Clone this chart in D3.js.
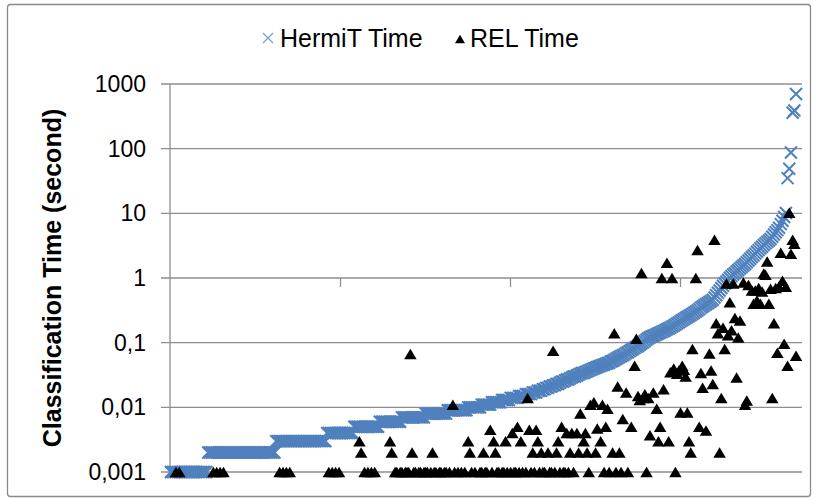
<!DOCTYPE html>
<html>
  <head>
    <meta charset="UTF-8" />
    <title>HermiT / REL classification time</title>
    <style>
      body { margin: 0; background: #fff; }
      text { font-family: "Liberation Sans", Arial, sans-serif; }
    </style>
  </head>
  <body>
    <svg width="816" height="499"></svg>

    <script src="https://d3js.org/d3.v7.min.js"></script>
    <script>
      // HermiT classification time per ontology (seconds), sorted ascending
      const hermitTime = [
        0.001, 0.001, 0.001, 0.001, 0.001, 0.001, 0.001, 0.001, 0.001, 0.001, 0.001, 0.001, 0.001, 0.001, 0.001, 0.001, 0.001, 0.001, 0.001, 0.001,
        0.001, 0.001, 0.002, 0.002, 0.002, 0.002, 0.002, 0.002, 0.002, 0.002, 0.002, 0.002, 0.002, 0.002, 0.002, 0.002, 0.002, 0.002, 0.002, 0.002,
        0.002, 0.002, 0.002, 0.002, 0.002, 0.002, 0.002, 0.002, 0.002, 0.002, 0.002, 0.002, 0.002, 0.002, 0.002, 0.002, 0.002, 0.002, 0.002, 0.002,
        0.002, 0.002, 0.003, 0.003, 0.003, 0.003, 0.003, 0.003, 0.003, 0.003, 0.003, 0.003, 0.003, 0.003, 0.003, 0.003, 0.003, 0.003, 0.003, 0.003,
        0.003, 0.003, 0.003, 0.003, 0.003, 0.003, 0.003, 0.003, 0.003, 0.003, 0.003, 0.003, 0.004, 0.004, 0.004, 0.004, 0.004, 0.004, 0.004, 0.004,
        0.004, 0.004, 0.004, 0.004, 0.004, 0.004, 0.004, 0.004, 0.005, 0.005, 0.005, 0.005, 0.005, 0.005, 0.005, 0.005, 0.005, 0.005, 0.005, 0.005,
        0.005, 0.005, 0.005, 0.006, 0.006, 0.006, 0.006, 0.006, 0.006, 0.006, 0.006, 0.006, 0.006, 0.006, 0.006, 0.006, 0.007, 0.007, 0.007, 0.007,
        0.007, 0.007, 0.007, 0.007, 0.007, 0.007, 0.007, 0.007, 0.007, 0.007, 0.008, 0.008, 0.008, 0.008, 0.008, 0.008, 0.008, 0.008, 0.008, 0.008,
        0.008, 0.008, 0.008, 0.009, 0.009, 0.009, 0.009, 0.009, 0.009, 0.009, 0.009, 0.009, 0.009, 0.009, 0.009, 0.010, 0.010, 0.010, 0.010, 0.010,
        0.010, 0.010, 0.010, 0.011, 0.011, 0.011, 0.011, 0.011, 0.011, 0.012, 0.012, 0.012, 0.012, 0.012, 0.012, 0.013, 0.013, 0.013, 0.013, 0.013,
        0.014, 0.014, 0.014, 0.014, 0.014, 0.015, 0.015, 0.015, 0.015, 0.016, 0.016, 0.016, 0.016, 0.017, 0.017, 0.017, 0.018, 0.018, 0.018, 0.019,
        0.019, 0.020, 0.020, 0.021, 0.021, 0.022, 0.022, 0.023, 0.023, 0.024, 0.025, 0.025, 0.026, 0.027, 0.027, 0.028, 0.029, 0.030, 0.030, 0.031,
        0.032, 0.033, 0.034, 0.034, 0.035, 0.036, 0.037, 0.038, 0.039, 0.040, 0.041, 0.042, 0.043, 0.044, 0.045, 0.046, 0.047, 0.048, 0.049, 0.051,
        0.052, 0.054, 0.056, 0.058, 0.060, 0.062, 0.064, 0.066, 0.069, 0.071, 0.074, 0.077, 0.080, 0.083, 0.086, 0.089, 0.093, 0.097, 0.101, 0.106,
        0.112, 0.117, 0.121, 0.125, 0.128, 0.131, 0.135, 0.139, 0.143, 0.147, 0.151, 0.156, 0.161, 0.166, 0.171, 0.177, 0.183, 0.190, 0.198, 0.206,
        0.215, 0.223, 0.231, 0.240, 0.249, 0.258, 0.268, 0.279, 0.290, 0.302, 0.315, 0.330, 0.348, 0.362, 0.377, 0.392, 0.408, 0.425, 0.44, 0.46,
        0.50, 0.54, 0.59, 0.64, 0.70, 0.76, 0.82, 0.88, 0.94, 1.01, 1.07, 1.13, 1.19, 1.26, 1.33, 1.40, 1.48, 1.56, 1.65, 1.75,
        1.86, 1.98, 2.11, 2.24, 2.38, 2.55, 2.7, 2.87, 3.05, 3.24, 3.43, 3.62, 3.81, 4.02, 4.35, 4.7, 5.1, 5.5, 6.0, 6.8,
        7.7, 8.8, 10.1, 35, 49, 87, 360, 390, 700
      ];

      // REL classification time for the same ontologies (null = 0, not plotted on log axis)
      const relTime = [
        null, null, null, 0.001, null, 0.001, null, null, null, null, null, null, null, null, null, null, null, null, null, null,
        null, null, null, null, null, 0.001, null, 0.001, null, 0.001, null, 0.001, null, null, null, null, null, null, null, null,
        null, null, null, null, null, null, null, null, null, null, null, null, null, null, null, null, null, null, null, null,
        null, null, null, null, 0.001, null, 0.001, null, 0.001, null, 0.001, null, null, null, null, null, null, null, null, null,
        null, null, null, null, null, null, null, null, null, null, null, null, null, 0.001, null, 0.001, null, 0.001, null, 0.001,
        null, null, null, null, null, null, null, null, null, null, null, 0.003, 0.002, null, 0.001, null, 0.001, null, 0.001, null,
        0.001, null, null, null, null, null, null, null, null, 0.003, 0.002, null, 0.001, 0.001, null, 0.001, 0.001, null, 0.001, 0.001,
        0.001, 0.067, 0.002, 0.001, 0.001, null, 0.001, 0.001, null, 0.001, 0.001, 0.001, null, 0.001, 0.002, 0.001, 0.001, null, 0.001, 0.001,
        null, 0.001, 0.001, null, 0.001, null, 0.011, 0.001, null, 0.001, null, 0.001, null, 0.001, null, 0.003, 0.002, 0.001, null, 0.001,
        null, null, 0.001, 0.001, 0.002, 0.001, 0.001, null, 0.0045, 0.001, 0.003, 0.002, 0.001, 0.001, null, 0.001, 0.001, 0.003, 0.001, null,
        0.001, 0.004, 0.001, 0.001, 0.005, 0.001, 0.003, 0.001, null, 0.001, 0.014, 0.0045, 0.001, 0.002, 0.001, 0.0045, 0.003, 0.001, 0.002, 0.001,
        0.001, null, 0.002, 0.001, 0.001, 0.075, 0.001, 0.002, 0.003, 0.001, 0.005, 0.001, 0.001, 0.004, 0.001, 0.002, 0.004, 0.001, null, 0.004,
        0.002, 0.008, null, 0.003, 0.004, 0.002, 0.001, 0.011, null, 0.012, 0.002, 0.0047, null, 0.003, 0.011, 0.001, 0.005, 0.0095, 0.001, null,
        0.002, 0.14, 0.001, 0.021, 0.002, 0.001, 0.0066, null, 0.017, 0.001, null, 0.005, null, 0.044, 0.115, 0.015, 0.013, 1.2, 0.014, 0.016,
        0.001, 0.014, 0.0037, null, 0.017, null, 0.0095, 0.003, 0.005, 1.0, 0.019, null, 1.72, 0.003, 0.035, 1.0, 0.04, 0.001, 0.033, 0.037,
        0.0083, 0.044, 0.038, 0.03, 0.0083, 0.003, 0.002, 0.08, null, 1.0, 2.7, 0.005, 0.034, 0.02, null, 0.0044, null, 0.068, 0.037, 0.023,
        3.9, 0.2, 0.14, 0.002, 0.014, 0.17, 0.08, 0.82, 0.13, 0.42, 0.155, 0.82, 0.24, 0.029, 0.12, 0.22, null, 0.85, 0.011, 0.0127,
        0.78, null, 0.64, 0.4, 0.64, 0.45, 0.7, 0.4, 0.62, 1.17, 1.12, 1.8, 0.4, 0.68, 0.014, 0.2, 0.7, 0.07, 0.73, 2.46,
        0.91, 0.096, 0.73, 0.044, 10.2, 2.37, 3.9, 3.4, 0.063
      ];

      // axes
      const yTicks = [0.001, 0.01, 0.1, 1, 10, 100, 1000];
      const yTickLabels = ["0,001", "0,01", "0,1", "1", "10", "100", "1000"];
      const xTickCats = [100, 200, 300]; // tick mark every 100 categories
      const CATEGORY_MAX = 372;

      const seriesNames = ["HermiT Time", "REL Time"];
      const yTitle = "Classification Time (second)";

      // 布局
      const PLOT_LEFT = 170;
      const PLOT_RIGHT = 802;
      const PLOT_TOP = 84;
      const PLOT_BOTTOM = 472;
      const FONT_SIZE = 23;
      const TITLE_SIZE = 25;
      const GRID_COLOR = "#8e8e8e";
      const BLUE = "#4f81bd";

      const xScale = d3.scaleLinear().domain([0, CATEGORY_MAX]).range([PLOT_LEFT, PLOT_RIGHT]);
      const yScale = d3.scaleLog().domain([0.001, 1000]).range([PLOT_BOTTOM, PLOT_TOP]);

      const svg = d3.select("svg");

      // chart border
      svg.append("rect")
        .attr("x", 7.5).attr("y", 4.5)
        .attr("width", 803).attr("height", 492)
        .attr("rx", 3)
        .attr("fill", "#fff")
        .attr("stroke", "#8a8a8a")
        .attr("stroke-width", 1.3);

      // horizontal gridlines
      svg.append("g")
        .selectAll("line")
        .data(yTicks)
        .enter()
        .append("line")
        .attr("x1", PLOT_LEFT - 9)
        .attr("x2", PLOT_RIGHT)
        .attr("y1", (d) => yScale(d))
        .attr("y2", (d) => yScale(d))
        .attr("stroke", GRID_COLOR)
        .attr("stroke-width", 1.3);

      // y axis line
      svg.append("line")
        .attr("x1", PLOT_LEFT).attr("x2", PLOT_LEFT)
        .attr("y1", PLOT_TOP).attr("y2", PLOT_BOTTOM)
        .attr("stroke", GRID_COLOR)
        .attr("stroke-width", 1.3);

      // category axis crosses at 1: tick marks
      svg.append("g")
        .selectAll("line")
        .data(xTickCats)
        .enter()
        .append("line")
        .attr("x1", (d) => Math.round(xScale(d)) + 0.5)
        .attr("x2", (d) => Math.round(xScale(d)) + 0.5)
        .attr("y1", yScale(1))
        .attr("y2", yScale(1) + 9)
        .attr("stroke", GRID_COLOR)
        .attr("stroke-width", 1.3);

      // y tick labels
      svg.append("g")
        .selectAll("text")
        .data(yTicks)
        .enter()
        .append("text")
        .attr("x", 146)
        .attr("y", (d) => yScale(d) + 8)
        .attr("text-anchor", "end")
        .attr("font-size", FONT_SIZE)
        .attr("fill", "#000")
        .text((d, i) => yTickLabels[i]);

      // y title
      svg.append("text")
        .attr("transform", `translate(61,${(PLOT_TOP + PLOT_BOTTOM) / 2}) rotate(-90)`)
        .attr("text-anchor", "middle")
        .attr("font-size", TITLE_SIZE)
        .attr("font-weight", "bold")
        .text(yTitle);

      // marker shapes
      const xMark = (s) => `M${-s},${-s}L${s},${s}M${-s},${s}L${s},${-s}`;
      const triMark = (w, h) => `M0,${-h / 2}L${w / 2},${h / 2}L${-w / 2},${h / 2}Z`;

      // HermiT series
      const hermitPts = hermitTime.map((v, i) => ({ i, v })).filter((d) => d.v != null);
      svg.append("g")
        .selectAll("path")
        .data(hermitPts)
        .enter()
        .append("path")
        .attr("transform", (d) => `translate(${xScale(d.i + 0.5)},${yScale(d.v)})`)
        .attr("d", xMark(6))
        .attr("fill", "none")
        .attr("stroke", BLUE)
        .attr("stroke-width", 2);

      // REL series
      const relPts = relTime.map((v, i) => ({ i, v })).filter((d) => d.v != null);
      svg.append("g")
        .selectAll("path")
        .data(relPts)
        .enter()
        .append("path")
        .attr("transform", (d) => `translate(${xScale(d.i + 0.5)},${yScale(d.v)})`)
        .attr("d", triMark(12.5, 10.5))
        .attr("fill", "#000");

      // legend
      const legend = svg.append("g");
      legend.append("path")
        .attr("transform", "translate(268,38)")
        .attr("d", xMark(5))
        .attr("fill", "none")
        .attr("stroke", "#7a9fd3")
        .attr("stroke-width", 1.3);
      legend.append("text")
        .attr("x", 280).attr("y", 47)
        .attr("font-size", TITLE_SIZE)
        .text(seriesNames[0]);
      legend.append("path")
        .attr("transform", "translate(460,39)")
        .attr("d", triMark(10, 8.5))
        .attr("fill", "#000");
      legend.append("text")
        .attr("x", 470).attr("y", 47)
        .attr("font-size", TITLE_SIZE)
        .text(seriesNames[1]);
    </script>
  </body>
</html>
